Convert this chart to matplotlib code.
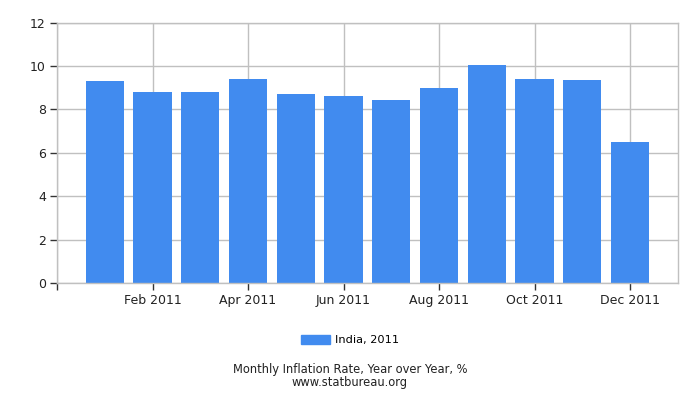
import matplotlib
matplotlib.use("Agg")
import matplotlib.pyplot as plt
from matplotlib.patches import Patch

months = ["Jan", "Feb", "Mar", "Apr", "May", "Jun",
          "Jul", "Aug", "Sep", "Oct", "Nov", "Dec"]
inflation = [9.30, 8.82, 8.82, 9.41, 8.72, 8.62,
             8.43, 8.99, 10.06, 9.39, 9.34, 6.49]
tick_pos = [-1, 1, 3, 5, 7, 9, 11]
tick_labels = ["", "Feb 2011", "Apr 2011", "Jun 2011", "Aug 2011", "Oct 2011", "Dec 2011"]
y_ticks = [0, 2, 4, 6, 8, 10, 12]

bar_color = "#418bef"
grid_color = "#c0c0c0"

fig = plt.figure(figsize=(7, 4), dpi=100)
ax = fig.add_axes([0.0814, 0.2917, 0.887, 0.652])

x = list(range(len(months)))
ax.bar(x, inflation, width=0.8, color=bar_color, zorder=2)

ax.set_xlim(-1, 12)
ax.set_ylim(0, 12)
ax.set_xticks(tick_pos)
ax.set_xticklabels(tick_labels, fontsize=9, color="#222222")
ax.set_yticks(y_ticks)
ax.set_yticklabels([str(v) for v in y_ticks], fontsize=9, color="#222222")
ax.tick_params(axis="both", length=5, width=1, color="#333333", pad=3)
ax.grid(True, color=grid_color, linewidth=1, zorder=0)
for s in ax.spines.values():
    s.set_color(grid_color)
    s.set_linewidth(1)

handles = [Patch(color=bar_color, label="India, 2011")]
fig.legend(handles=handles, loc="center", bbox_to_anchor=(0.5, 0.15),
           frameon=False, fontsize=8.2, handlelength=2.6, handleheight=0.9,
           handletextpad=0.4)

fig.text(0.5, 0.06, "Monthly Inflation Rate, Year over Year, %\nwww.statbureau.org",
         ha="center", va="center", fontsize=8.3, color="#222222",
         linespacing=0.95)

fig.savefig("out.png", dpi=100)
